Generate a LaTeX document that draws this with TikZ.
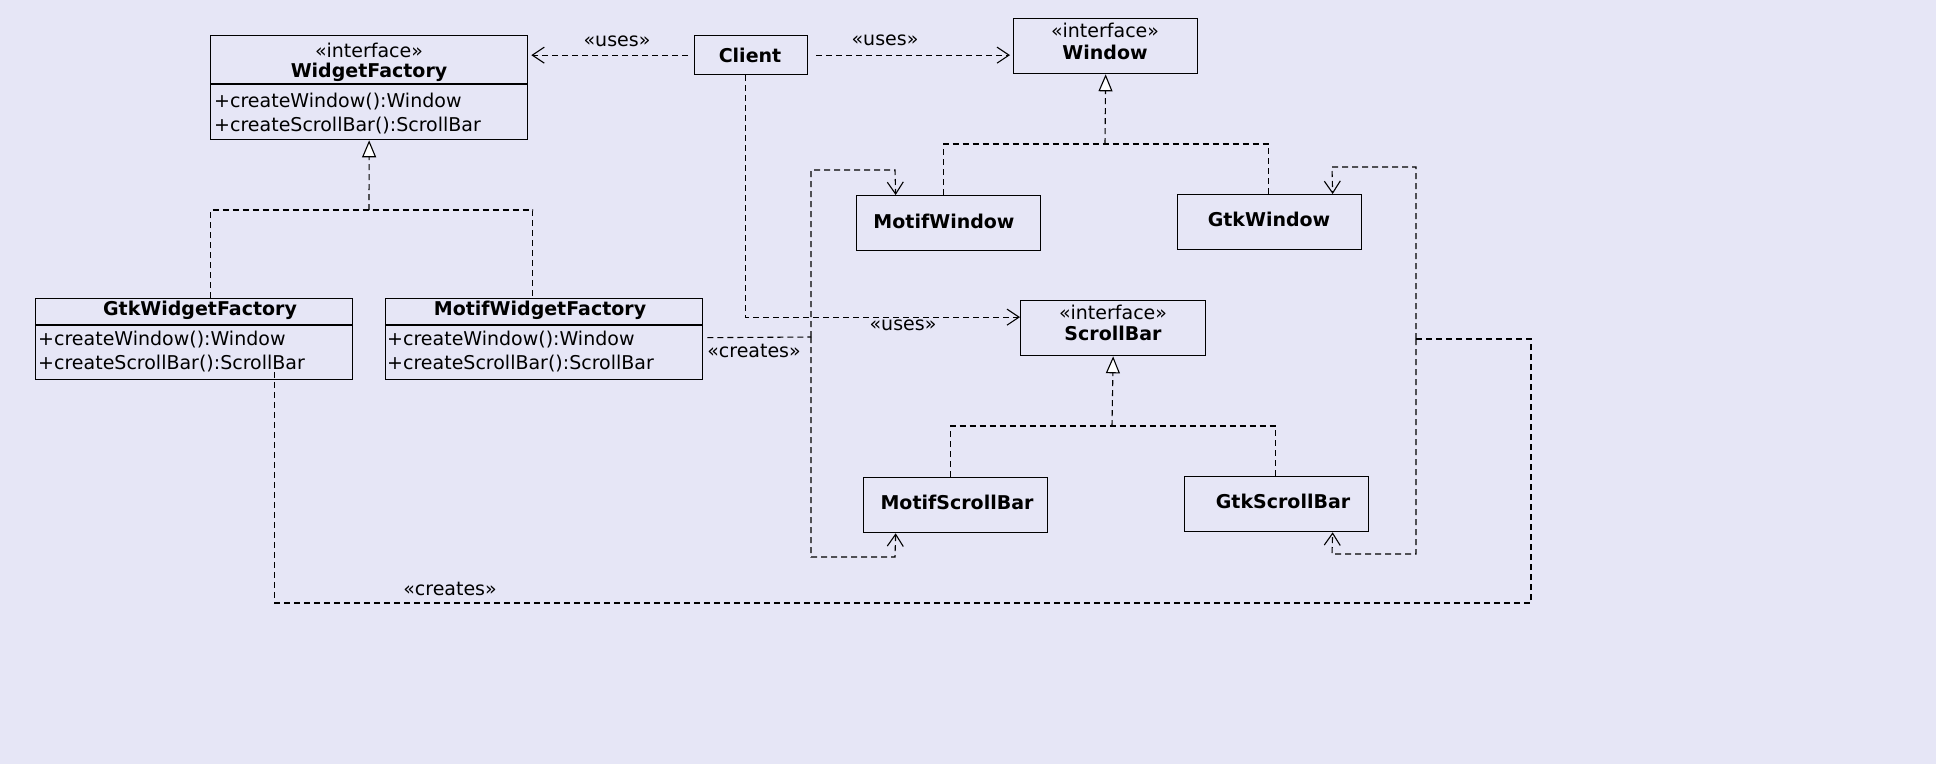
\documentclass[tikz,border=0pt]{standalone}
\usepackage{fontspec}
\setmainfont{DejaVu Sans}
\usepackage{tikz}
\usetikzlibrary{arrows.meta}
\definecolor{bg}{RGB}{230,230,246}
\newcommand{\drawdep}{\draw[dep]}
\newcommand{\divider}[3]{\draw[line width=1.3pt] (#1,#3)--(#2,#3);}
\tikzset{
  box/.style={draw, line width=1.3pt, anchor=north west, inner sep=0pt},
  txt/.style={inner sep=0pt, font=\fontsize{19}{22}\selectfont},
  ttl/.style={inner sep=0pt, font=\fontsize{19}{22}\selectfont\bfseries},
  mth/.style={txt, anchor=west},
  dep/.style={line width=1.1pt, dash pattern=on 6pt off 4pt},
  uses/.style={dep, -{Straight Barb[length=12pt,width=16pt,line width=1.1pt]}},
  impl/.style={dep, -{Triangle[length=17pt,width=14pt,fill=white,line width=1.1pt]}},
}

\begin{document}
\begin{tikzpicture}[x=1pt,y=-1pt]
\useasboundingbox (0,0) rectangle (1936,764);
\fill[bg] (0,0) rectangle (1936,764);
% factories
\node[box, minimum width=317pt, minimum height=104pt] (wf) at (210,35) {};
\node[txt] (wf-s) at (369,50) {«interface»};
\node[ttl] (wf-t) at (369,72) {WidgetFactory};
\divider{210}{527}{84}
\node[mth] (wf-m1) at (214,102) {+createWindow():Window};
\node[mth] (wf-m2) at (214,126) {+createScrollBar():ScrollBar};
\node[box, minimum width=317pt, minimum height=81pt] (gwf) at (35,298) {};
\node[ttl] (gwf-t) at (200,310) {GtkWidgetFactory};
\divider{35}{352}{325}
\node[mth] (gwf-m1) at (38,340) {+createWindow():Window};
\node[mth] (gwf-m2) at (38,364) {+createScrollBar():ScrollBar};
\node[box, minimum width=317pt, minimum height=81pt] (mwf) at (385,298) {};
\node[ttl] (mwf-t) at (540,310) {MotifWidgetFactory};
\divider{385}{702}{325}
\node[mth] (mwf-m1) at (387,340) {+createWindow():Window};
\node[mth] (mwf-m2) at (387,364) {+createScrollBar():ScrollBar};
% client and products
\node[box, minimum width=113pt, minimum height=39pt] (client) at (694,35) {};
\node[ttl] (client-t) at (750,55) {Client};
\node[box, minimum width=184pt, minimum height=55pt] (win) at (1013,18) {};
\node[txt] (win-s) at (1105,30) {«interface»};
\node[ttl] (win-t) at (1105,52) {Window};
\node[box, minimum width=185pt, minimum height=55pt] (sb) at (1020,300) {};
\node[txt] (sb-s) at (1113,312) {«interface»};
\node[ttl] (sb-t) at (1113,333) {ScrollBar};
\node[box, minimum width=184pt, minimum height=55pt] (mw) at (856,195) {};
\node[ttl] (mw-t) at (944,221) {MotifWindow};
\node[box, minimum width=184pt, minimum height=55pt] (gw) at (1177,194) {};
\node[ttl] (gw-t) at (1269,219) {GtkWindow};
\node[box, minimum width=184pt, minimum height=55pt] (ms) at (863,477) {};
\node[ttl] (ms-t) at (957,502) {MotifScrollBar};
\node[box, minimum width=184pt, minimum height=55pt] (gs) at (1184,476) {};
\node[ttl] (gs-t) at (1283,501) {GtkScrollBar};
% junctions
\coordinate (wf-j) at (369,210);
\coordinate (win-j) at (1105,144);
\coordinate (sb-j) at (1112,426);
\coordinate (mc) at (811,337);
\coordinate (mw-c) at (895,170);
\coordinate (ms-c) at (895,557);
\coordinate (gcr) at (1531,603);
\coordinate (gc) at (1416,339);
\coordinate (gw-c) at (1332,167);
\coordinate (gs-c) at (1332,554);
% uses
\draw[uses, shorten <=6pt, shorten >=3pt] (client.west) -- (wf.east |- client.west);
\draw[uses, shorten <=8pt, shorten >=3pt] (client.east) -- (win.west |- client.east);
\draw[uses] ([xshift=-6pt]client.south) |- ([yshift=11pt]sb.west);
% realizations
\draw[impl] (wf-j) -- (wf.south);
\drawdep ([xshift=16.5pt]gwf.north) |- (wf-j) -| ([xshift=-11.5pt]mwf.north);
\draw[impl] (win-j) -- (win.south);
\drawdep ([xshift=-5pt]mw.north) |- (win-j) -| ([xshift=-1pt]gw.north);
\draw[impl] (sb-j) -- (sb.south);
\drawdep ([xshift=-5pt]ms.north) |- (sb-j) -| ([xshift=-1pt]gs.north);
% creates
\drawdep ([shift={(4pt,1.5pt)}]mwf.east) -- (mc);
\draw[uses] (mc) |- (mw-c) -- ([xshift=-53pt]mw.north);
\draw[uses] (mc) |- (ms-c) -- ([xshift=-60pt]ms.south);
\drawdep ([shift={(80.5pt,8pt)}]gwf.south) |- (gcr) |- (gc);
\draw[uses] (gc) |- (gw-c) -- ([xshift=63pt]gw.north);
\draw[uses] (gc) |- (gs-c) -- ([xshift=56pt]gs.south);
% labels
\node[txt] (l-u1) at (617,41) {«uses»};
\node[txt] (l-u2) at (885,40) {«uses»};
\node[txt] (l-u3) at (903,325) {«uses»};
\node[txt] (l-c1) at (754,351) {«creates»};
\node[txt] (l-c2) at (450,589) {«creates»};
\end{tikzpicture}
\end{document}
